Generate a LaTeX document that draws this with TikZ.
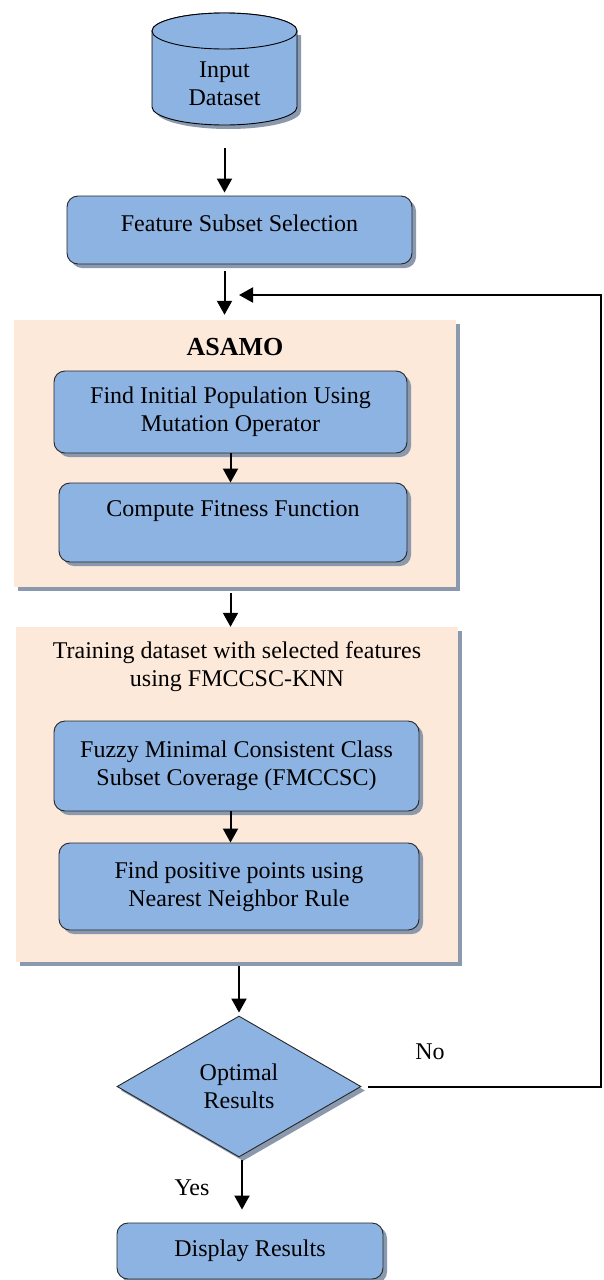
\documentclass[tikz,border=0pt]{standalone}
\usepackage{fontspec}
\setmainfont{Liberation Serif}
\usepackage{xcolor}
\definecolor{boxblue}{HTML}{8DB3E2}
\definecolor{panelpeach}{HTML}{FDE9D9}
\definecolor{shadowgrey}{HTML}{8A99AD}
\usetikzlibrary{positioning,arrows.meta,shapes.geometric,shadows}
\tikzset{
  sbox/.style  ={rectangle, rounded corners=11pt, draw=black!85, fill=boxblue, line width=0.9pt,
                 align=center, inner sep=2pt, font=\fontsize{24}{28}\selectfont,
                 copy shadow={shadow xshift=4pt, shadow yshift=-4pt, fill=shadowgrey, draw=none}},
  panel/.style ={rectangle, fill=panelpeach, draw=none, inner sep=0pt,
                 copy shadow={shadow xshift=4pt, shadow yshift=-4pt, fill=shadowgrey, draw=none}},
  ptitle/.style={align=center, inner sep=0pt, font=\fontsize{24}{28}\selectfont},
  decision/.style={diamond, draw=black!85, fill=boxblue, line width=0.9pt, aspect=1.73,
                 align=center, inner sep=0pt, font=\fontsize{24}{28}\selectfont,
                 copy shadow={shadow xshift=4pt, shadow yshift=-4pt, fill=shadowgrey, draw=none}},
  arr/.style   ={-{Triangle[length=14pt,width=15pt]}, line width=2pt},
  el/.style    ={font=\fontsize{24}{28}\selectfont, inner sep=0pt},
}

\begin{document}
\begin{tikzpicture}[x=1pt,y=1pt]
  \useasboundingbox (0,0) rectangle (603,-1280);
  \fill[shadowgrey] (156,-35) -- (156,-111) arc[start angle=180,end angle=360,x radius=72.5,y radius=18] -- (301,-35) -- cycle;
  \draw[fill=boxblue, line width=0.9pt] (152,-31) -- (152,-107) arc[start angle=180,end angle=360,x radius=72.5,y radius=18]
    -- (297,-31) arc[start angle=0,end angle=180,x radius=72.5,y radius=18];
  \draw[fill=boxblue, line width=0.9pt] (224.5,-31) ellipse[x radius=72.5,y radius=18];
  \node[ptitle, minimum width=145pt, minimum height=82pt] (input) at (224.5,-84) {Input\\Dataset};
  \node[sbox, minimum width=345pt, minimum height=68pt, text depth=14pt] (feat) at (239.5,-230) {Feature Subset Selection};
  \node[panel, minimum width=442pt, minimum height=267pt] (asamo) at (235,-453.5) {};
  \node[ptitle, font=\fontsize{26}{30}\selectfont\bfseries] (asamotitle) at (235,-347) {ASAMO};
  \node[sbox, minimum width=353pt, minimum height=82pt] (fip) at (230.5,-412) {Find Initial Population Using\\Mutation Operator};
  \node[sbox, minimum width=348pt, minimum height=79pt, text depth=27pt] (fit) at (233,-522.5) {Compute Fitness Function};
  \node[panel, minimum width=442pt, minimum height=335pt] (train) at (237,-794.5) {};
  \node[ptitle] (traintitle) at (237,-667) {Training dataset with selected features\\using FMCCSC-KNN};
  \node[sbox, minimum width=365pt, minimum height=90pt] (fmc) at (236.5,-766) {Fuzzy Minimal Consistent Class\\Subset Coverage (FMCCSC)};
  \node[sbox, minimum width=360pt, minimum height=87pt] (knn) at (239,-886.5) {Find positive points using\\Nearest Neighbor Rule};
  \node[decision, minimum width=244pt, minimum height=141pt] (opt) at (239,-1086.5) {Optimal\\Results};
  \node[sbox, minimum width=266pt, minimum height=56pt] (disp) at (250,-1251) {Display Results};
  \node[el] (no) at (430,-1052) {No};
  \node[el] (yes) at (192,-1188) {Yes};
  \coordinate (back) at (601,-295);
  \coordinate (entry) at (239,-295);
  \draw[arr, shorten <=23pt, shorten >=3pt] (input.south) -- (input.south |- feat.north);
  \draw[arr, shorten <=7pt, shorten >=5pt] (feat.south -| input) -- (asamo.north -| input);
  \draw[arr] (fip.south) -- (fip.south |- fit.north);
  \draw[arr, shorten <=6pt] (asamo.south -| fip) -- (train.north -| fip);
  \draw[arr] (fmc.south -| fip) -- (knn.north -| fip);
  \draw[arr, shorten <=4pt, shorten >=3pt] (train.south -| opt) -- (opt.north);
  \draw[arr, shorten <=3pt, shorten >=13pt] ([xshift=3pt]opt.south) -- ([xshift=3pt]opt.south |- disp.north);
  \draw[arr, shorten <=7pt] (opt.east) -| (back) -- (entry);
\end{tikzpicture}
\end{document}
